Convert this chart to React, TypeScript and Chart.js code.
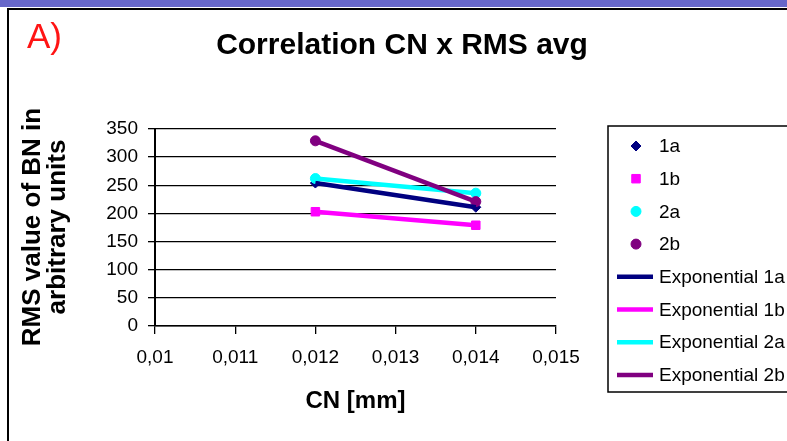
import React, { useEffect, useRef } from 'react';
import { Chart, registerables } from 'chart.js';
import { drawPoint } from 'chart.js/helpers';

Chart.register(...registerables);

// ---- data ----
const cnValues = [0.012, 0.014];
const series1a = [254, 211];
const series1b = [203, 179];
const series2a = [262, 236];
const series2b = [329, 221];
const seriesNames = ['1a', '1b', '2a', '2b'];
const seriesValues = [series1a, series1b, series2a, series2b];
const seriesColors = ['#000080', '#ff00ff', '#00ffff', '#800080'];
const markerStyles = ['rectRot', 'rect', 'circle', 'circle'];
const markerRadii = [5, 6, 5, 5];
const xTickLabels = ['0,01', '0,011', '0,012', '0,013', '0,014', '0,015'];
const yTickLabels = ['0', '50', '100', '150', '200', '250', '300', '350'];
const chartTitle = 'Correlation CN x RMS avg';
const panelLabel = 'A)';
const yTitleLines = ['RMS value of BN in', 'arbitrary units'];
const xTitle = 'CN [mm]';
const trendPrefix = 'Exponential ';

const FONT = "'Liberation Sans', Arial, sans-serif";

const decorPlugin = {
  id: 'decor',
  beforeDraw(chart: any) {
    const ctx = chart.ctx;
    ctx.save();
    ctx.fillStyle = '#ffffff';
    ctx.fillRect(0, 0, chart.width, chart.height);
    ctx.fillStyle = '#6767c9';
    ctx.fillRect(0, 0, chart.width, 7);
    ctx.fillStyle = '#000000';
    ctx.fillRect(7, 8, 2, chart.height - 8);
    ctx.fillRect(7, 8, chart.width - 7, 2);
    ctx.restore();
  },
  afterDraw(chart: any) {
    const ctx = chart.ctx;
    const area = chart.chartArea;
    ctx.save();
    // panel label
    ctx.fillStyle = '#ff1414';
    ctx.font = `35px ${FONT}`;
    ctx.textAlign = 'left';
    ctx.textBaseline = 'alphabetic';
    ctx.fillText(panelLabel, 27, 48);
    // title
    ctx.fillStyle = '#000000';
    ctx.font = `bold 30px ${FONT}`;
    ctx.textAlign = 'center';
    ctx.fillText(chartTitle, 402, 54);
    // x title
    ctx.font = `bold 24px ${FONT}`;
    ctx.fillText(xTitle, (area.left + area.right) / 2, 408);
    // y title
    ctx.save();
    ctx.translate(0, 227);
    ctx.rotate(-Math.PI / 2);
    ctx.font = `bold 26px ${FONT}`;
    ctx.textAlign = 'center';
    ctx.fillText(yTitleLines[0], 0, 40);
    ctx.fillText(yTitleLines[1], 0, 65);
    ctx.restore();
    // legend
    const lx = 608, ly = 126, lh = 266;
    ctx.strokeStyle = '#000000';
    ctx.lineWidth = 1.5;
    ctx.strokeRect(lx, ly, 200, lh);
    const rowStep = 32.7;
    ctx.font = `19px ${FONT}`;
    ctx.textAlign = 'left';
    ctx.textBaseline = 'middle';
    chart.data.datasets.forEach((ds: any, i: number) => {
      const y = 146 + i * rowStep;
      if (ds.showLine === false) {
        ctx.fillStyle = ds.pointBackgroundColor;
        ctx.strokeStyle = ds.pointBorderColor;
        ctx.lineWidth = 1;
        drawPoint(ctx, { pointStyle: ds.pointStyle, radius: ds.pointRadius, rotation: 0, borderWidth: 1 }, 636, y);
        ctx.fillStyle = '#000000';
        ctx.fillText(ds.label, 659, y + 1);
      } else {
        ctx.strokeStyle = ds.borderColor;
        ctx.lineWidth = 4.5;
        ctx.beginPath();
        ctx.moveTo(617, y);
        ctx.lineTo(653, y);
        ctx.stroke();
        ctx.fillStyle = '#000000';
        ctx.fillText(ds.label, 659, y + 1);
      }
    });
    ctx.restore();
  },
};

export default function App() {
  const ref = useRef<HTMLCanvasElement>(null);
  useEffect(() => {
    const canvas = ref.current;
    if (!canvas) return;
    const markerSets = seriesNames.map((name, i) => ({
      label: name,
      data: cnValues.map((x, j) => ({ x, y: seriesValues[i][j] })),
      showLine: false,
      pointStyle: markerStyles[i],
      pointRadius: markerRadii[i],
      pointBackgroundColor: seriesColors[i],
      pointBorderColor: seriesColors[i],
      pointBorderWidth: 1,
      order: 20 - i,
    }));
    const trendSets = seriesNames.map((name, i) => ({
      label: trendPrefix + name,
      data: cnValues.map((x, j) => ({ x, y: seriesValues[i][j] })),
      showLine: true,
      borderColor: seriesColors[i],
      borderWidth: 4.5,
      pointRadius: 0,
      fill: false,
      order: 10 - i,
    }));
    const chart = new Chart(canvas, {
      type: 'scatter',
      data: { datasets: [...markerSets, ...trendSets] as any },
      options: {
        responsive: false,
        animation: false,
        devicePixelRatio: 1,
        layout: { padding: { left: 95, right: 231, top: 129, bottom: 55 } },
        plugins: { legend: { display: false }, title: { display: false }, tooltip: { enabled: false } },
        scales: {
          x: {
            type: 'linear',
            min: 0.01,
            max: 0.015,
            afterFit: (s: any) => { s.height = 60; },
            afterBuildTicks: (s: any) => { s.ticks = xTickLabels.map((_, k) => ({ value: 0.01 + k * 0.001 })); },
            ticks: {
              color: '#000',
              font: { family: FONT, size: 19 },
              padding: 12,
              maxRotation: 0,
              autoSkip: false,
              callback: (_v: any, idx: number) => xTickLabels[idx],
            },
            grid: { drawOnChartArea: false, drawTicks: true, tickLength: 8, color: '#000', lineWidth: 1.3 },
            border: { display: true, color: '#000', width: 1.5 },
          },
          y: {
            type: 'linear',
            min: 0,
            max: 350,
            afterFit: (s: any) => { s.width = 60; },
            ticks: {
              stepSize: 50,
              color: '#000',
              font: { family: FONT, size: 19 },
              padding: 10,
              callback: (_v: any, idx: number) => yTickLabels[idx],
            },
            grid: { drawOnChartArea: true, drawTicks: true, tickLength: 7, color: '#000', lineWidth: 1.3 },
            border: { display: true, color: '#000', width: 2 },
          },
        },
      },
      plugins: [decorPlugin],
    } as any);
    return () => chart.destroy();
  }, []);
  return (
    <div style={{ position: 'fixed', left: 0, top: 0, width: 787, height: 441, background: '#fff' }}>
      <canvas ref={ref} width={787} height={441} style={{ display: 'block', width: 787, height: 441 }} />
    </div>
  );
}
